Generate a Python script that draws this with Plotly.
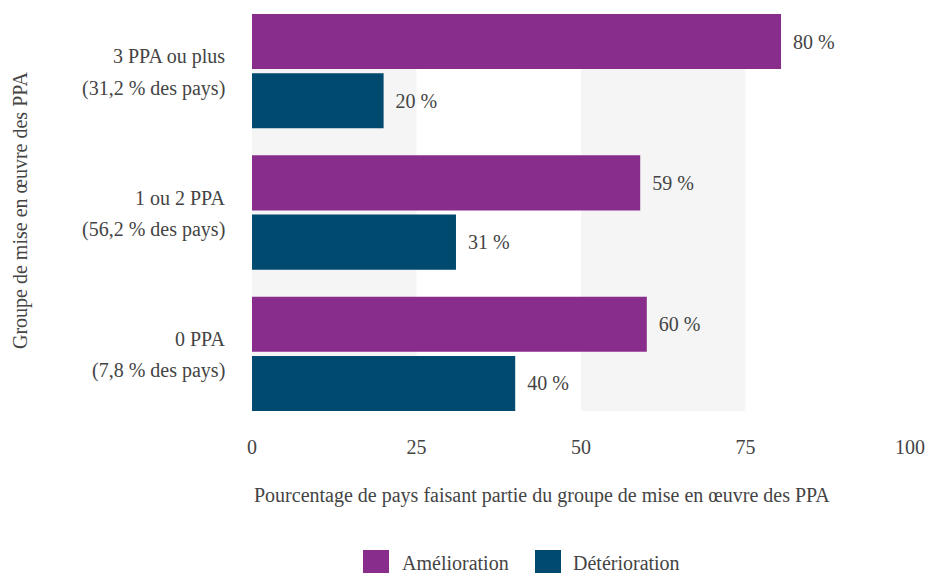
import plotly.graph_objects as go

# Data
categories = ["3 PPA ou plus", "1 ou 2 PPA", "0 PPA"]
category_notes = ["(31,2 % des pays)", "(56,2 % des pays)", "(7,8 % des pays)"]
amelioration = [80.4, 59, 60]
deterioration = [20, 31, 40]
amelioration_labels = ["80 %", "59 %", "60 %"]
deterioration_labels = ["20 %", "31 %", "40 %"]
x_ticks = [0, 25, 50, 75, 100]
series_names = ["Amélioration", "Détérioration"]
y_title = "Groupe de mise en œuvre des PPA"
x_title = "Pourcentage de pays faisant partie du groupe de mise en œuvre des PPA"

PURPLE = "#882d8b"
BLUE = "#00496f"
TXT = "#444444"
FONT = "Liberation Serif"
FS = 20

# plot area geometry (pixels)
W, H = 928, 573
L, R, T, B = 252, 18, 14, 162
PW = W - L - R
PH = H - T - B


def px_x(px):
    return (px - L) / PW


def px_y(py):
    return (H - B - py) / PH


PAD = "\u00a0\u2009"

fig = go.Figure()
fig.add_trace(go.Bar(
    y=categories, x=amelioration, orientation="h", name=series_names[0],
    marker=dict(color=PURPLE, line=dict(width=0)),
    text=[PAD + t for t in amelioration_labels],
    textposition="outside", cliponaxis=False,
    textfont=dict(family=FONT, size=FS, color=TXT),
    showlegend=False,
))
fig.add_trace(go.Bar(
    y=categories, x=deterioration, orientation="h", name=series_names[1],
    marker=dict(color=BLUE, line=dict(width=0)),
    text=[PAD + t for t in deterioration_labels],
    textposition="outside", cliponaxis=False,
    textfont=dict(family=FONT, size=FS, color=TXT),
    showlegend=False,
))

shapes = []
for a, b in [(0, 25), (50, 75)]:
    shapes.append(dict(type="rect", xref="x", yref="paper", x0=a, x1=b, y0=0, y1=1,
                       fillcolor="#f5f5f5", line=dict(width=0), layer="below"))

annotations = []
# category labels (two lines each)
for cat, note in zip(categories, category_notes):
    annotations.append(dict(xref="paper", yref="y", x=0, y=cat, text=cat, showarrow=False,
                            xanchor="right", yanchor="middle", xshift=-25, yshift=15,
                            font=dict(family=FONT, size=FS, color=TXT)))
    annotations.append(dict(xref="paper", yref="y", x=0, y=cat, text=note, showarrow=False,
                            xanchor="right", yanchor="middle", xshift=-25, yshift=-17,
                            font=dict(family=FONT, size=FS, color=TXT)))

# axis titles
annotations.append(dict(xref="paper", yref="paper", x=px_x(20), y=px_y(210), text=y_title,
                        textangle=-90, showarrow=False, xanchor="center", yanchor="middle",
                        font=dict(family=FONT, size=FS, color=TXT)))
annotations.append(dict(xref="paper", yref="paper", x=px_x(252), y=px_y(495), text=x_title,
                        showarrow=False, xanchor="left", yanchor="middle",
                        font=dict(family=FONT, size=FS, color=TXT)))

# custom legend
legend_items = [(363, PURPLE, series_names[0], 400), (535, BLUE, series_names[1], 571)]
for sx, col, name, tx in legend_items:
    shapes.append(dict(type="rect", xref="paper", yref="paper",
                       x0=px_x(sx), x1=px_x(sx + 26), y0=px_y(576), y1=px_y(550),
                       fillcolor=col, line=dict(width=0)))
    annotations.append(dict(xref="paper", yref="paper", x=px_x(tx), y=px_y(563), text=name,
                            showarrow=False, xanchor="left", yanchor="middle",
                            font=dict(family=FONT, size=FS, color=TXT)))

fig.update_layout(
    width=W, height=H,
    margin=dict(l=L, r=R, t=T, b=B, pad=0, autoexpand=False),
    paper_bgcolor="white", plot_bgcolor="white",
    barmode="group", bargap=0.163, bargroupgap=0.068,
    shapes=shapes, annotations=annotations,
    font=dict(family=FONT, size=FS, color=TXT),
    xaxis=dict(range=[0, 100], tickvals=x_ticks, ticktext=[str(v) for v in x_ticks],
               showgrid=False, zeroline=False, showline=False, ticks="",
               ticklabelstandoff=22, ticklabeloverflow="allow", automargin=False,
               tickfont=dict(family=FONT, size=FS, color=TXT), fixedrange=True),
    yaxis=dict(type="category", categoryorder="array", categoryarray=categories,
               range=[2.404, -0.404], showticklabels=False, showgrid=False,
               zeroline=False, showline=False, ticks="", fixedrange=True, automargin=False),
    showlegend=False,
)

fig.write_html(
    "out.html",
    config={"displayModeBar": False},
    post_script="document.body.style.margin='0';document.body.style.overflow='hidden';",
)
